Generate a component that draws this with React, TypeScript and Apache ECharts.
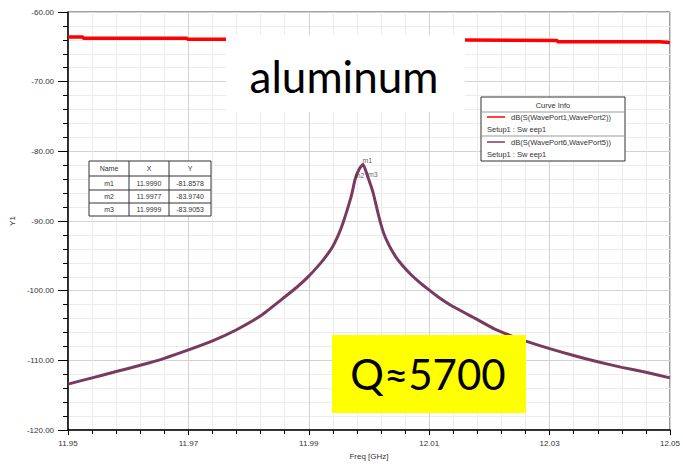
import React, { useEffect, useRef } from "react";
import * as echarts from "echarts";

// Swept S-parameter traces (frequency in GHz, magnitude in dB)
const s21Name = "dB(S(WavePort1,WavePort2))";
const s21Freq = [11.95, 11.9525, 11.9525, 11.9698, 11.9698, 11.9935, 11.9935, 12.008, 12.008, 12.0313, 12.0313, 12.0482, 12.0482, 12.05];
const s21Db = [-63.6, -63.6, -63.75, -63.75, -63.9, -63.95, -64.0, -64.0, -64.1, -64.1, -64.27, -64.27, -64.37, -64.37];

const s65Name = "dB(S(WavePort6,WavePort5))";
const s65Freq = [
  11.95, 11.954, 11.958, 11.962, 11.966, 11.97, 11.974, 11.978, 11.982, 11.986, 11.988, 11.99, 11.992, 11.993, 11.994,
  11.9948, 11.9955, 11.9962, 11.997, 11.9973, 11.9977, 11.9984, 11.999, 11.9999, 12.0003, 12.0007, 12.0012, 12.0018,
  12.0025, 12.0034, 12.0045, 12.0059, 12.007, 12.0084, 12.0097, 12.0115, 12.0138, 12.0177, 12.0209, 12.0259, 12.03,
  12.034, 12.038, 12.042, 12.046, 12.05,
];
const s65Db = [
  -113.4, -112.5, -111.6, -110.7, -109.7, -108.5, -107.2, -105.6, -103.6, -100.9, -99.5, -97.9, -96.0, -94.9, -93.6,
  -92.2, -90.7, -88.9, -86.6, -85.5, -83.974, -82.5, -81.8578, -83.9053, -84.9, -86.0, -87.8, -89.9,
  -91.9, -93.6, -95.2, -96.7, -97.7, -98.8, -99.7, -100.9, -102.2, -104.0, -105.5, -107.2, -108.3,
  -109.3, -110.2, -111.0, -111.7, -112.5,
];

// Markers placed on the resonance trace
const markerNames = ["m1", "m2", "m3"];
const markerFreq = [11.999, 11.9977, 11.9999];
const markerDb = [-81.8578, -83.974, -83.9053];

const tableHeaders = ["Name", "X", "Y"];
const setupLabel = "Setup1 : Sw eep1";
const materialLabel = "aluminum";
const qLabel = "Q\u22485700";

const S21_COLOR = "#ff0000";
const S65_COLOR = "#7a3a60";
const TXT = "#333333";
const FONT = "Liberation Sans, Arial, sans-serif";
const TOP_Z = 100;

// Overlay elements sit above grid lines and traces
function onTop(el: any): any {
  return { z: TOP_Z, ...el };
}

function label(text: string, x: number, y: number, font: string, align = "center", fill = TXT): any {
  return onTop({
    type: "text",
    style: { text, x, y, align, verticalAlign: "middle", fill, font, stroke: "none", lineWidth: 0 },
  });
}

function buildTable(): any[] {
  const colEdges = [89, 129, 169, 211];
  const rowEdges = [161, 176, 190, 203, 216];
  const els: any[] = [
    onTop({
      type: "rect",
      shape: { x: colEdges[0], y: rowEdges[0], width: colEdges[3] - colEdges[0], height: rowEdges[4] - rowEdges[0] },
      style: { fill: "#ffffff", stroke: "#333", lineWidth: 1 },
    }),
  ];
  for (let i = 1; i < rowEdges.length - 1; i++) {
    els.push(
      onTop({
        type: "line",
        shape: { x1: colEdges[0], y1: rowEdges[i], x2: colEdges[3], y2: rowEdges[i] },
        style: { stroke: "#333", lineWidth: 1 },
      })
    );
  }
  for (let j = 1; j < colEdges.length - 1; j++) {
    els.push(
      onTop({
        type: "line",
        shape: { x1: colEdges[j], y1: rowEdges[0], x2: colEdges[j], y2: rowEdges[4] },
        style: { stroke: "#333", lineWidth: 1 },
      })
    );
  }
  const rows: string[][] = [tableHeaders];
  markerNames.forEach((n, i) => {
    rows.push([n, markerFreq[i].toFixed(4), markerDb[i].toFixed(4)]);
  });
  rows.forEach((r, i) => {
    const cy = (rowEdges[i] + rowEdges[i + 1]) / 2;
    r.forEach((cell, j) => {
      const cx = (colEdges[j] + colEdges[j + 1]) / 2;
      els.push(label(cell, cx, cy, `7px ${FONT}`));
    });
  });
  return els;
}

function buildCurveInfo(): any[] {
  const x0 = 481;
  const y0 = 97;
  const w = 144;
  const h = 64;
  const font = `7.5px ${FONT}`;
  const entries = [
    { name: s21Name, color: S21_COLOR },
    { name: s65Name, color: S65_COLOR },
  ];
  const els: any[] = [
    onTop({
      type: "rect",
      shape: { x: x0, y: y0, width: w, height: h },
      style: { fill: "#ffffff", stroke: "#333", lineWidth: 1 },
    }),
    label("Curve Info", x0 + w / 2, y0 + 8, font),
    onTop({
      type: "line",
      shape: { x1: x0, y1: y0 + 15, x2: x0 + w, y2: y0 + 15 },
      style: { stroke: "#999", lineWidth: 1 },
    }),
    onTop({
      type: "line",
      shape: { x1: x0, y1: y0 + 39, x2: x0 + w, y2: y0 + 39 },
      style: { stroke: "#999", lineWidth: 1 },
    }),
  ];
  entries.forEach((e, i) => {
    const base = y0 + 20 + i * 25;
    els.push(
      onTop({
        type: "line",
        shape: { x1: x0 + 6, y1: base, x2: x0 + 24, y2: base },
        style: { stroke: e.color, lineWidth: 1.5 },
      })
    );
    els.push(label(e.name, x0 + 30, base, font, "left"));
    els.push(label(setupLabel, x0 + 6, base + 12, font, "left"));
  });
  return els;
}

export default function App() {
  const ref = useRef<HTMLDivElement>(null);

  useEffect(() => {
    if (!ref.current) return;
    const chart = echarts.init(ref.current, undefined, { renderer: "svg" });

    const axisLabel = { color: TXT, fontSize: 8, fontFamily: FONT };
    const majorSplit = { show: true, lineStyle: { color: "#d2d2d2", width: 1 } };
    const minorSplit = { show: true, lineStyle: { color: "#ececec", width: 1 } };

    chart.setOption({
      animation: false,
      backgroundColor: "#ffffff",
      grid: {
        left: 64,
        right: 9,
        top: 12,
        bottom: 27,
        show: true,
        borderColor: "#444",
        borderWidth: 1,
        backgroundColor: "transparent",
      },
      xAxis: {
        type: "value",
        min: 11.95,
        max: 12.05,
        interval: 0.02,
        name: "Freq [GHz]",
        nameLocation: "middle",
        nameGap: 20,
        nameTextStyle: { color: TXT, fontSize: 8, fontFamily: FONT },
        axisLine: { show: true, onZero: false, lineStyle: { color: "#000", width: 1.5 } },
        axisTick: { show: true, inside: false, length: 5, lineStyle: { color: "#000" } },
        minorTick: { show: true, splitNumber: 5, length: 4, lineStyle: { color: "#000" } },
        axisLabel: { ...axisLabel, margin: 9, formatter: (v: number) => v.toFixed(2) },
        splitLine: majorSplit,
        minorSplitLine: minorSplit,
      },
      yAxis: {
        type: "value",
        min: -120,
        max: -60,
        interval: 10,
        name: "Y1",
        nameLocation: "middle",
        nameRotate: 90,
        nameGap: 50,
        nameTextStyle: { color: TXT, fontSize: 8, fontFamily: FONT },
        axisLine: { show: true, onZero: false, lineStyle: { color: "#000", width: 1.5 } },
        axisTick: { show: true, inside: false, length: 10, lineStyle: { color: "#000" } },
        minorTick: { show: true, splitNumber: 5, length: 5, lineStyle: { color: "#000" } },
        axisLabel: { ...axisLabel, margin: 14, formatter: (v: number) => v.toFixed(2) },
        splitLine: majorSplit,
        minorSplitLine: minorSplit,
      },
      series: [
        {
          name: s21Name,
          type: "line",
          data: s21Freq.map((f, i) => [f, s21Db[i]]),
          showSymbol: false,
          lineStyle: { color: S21_COLOR, width: 3.5 },
          z: 3,
        },
        {
          name: s65Name,
          type: "line",
          data: s65Freq.map((f, i) => [f, s65Db[i]]),
          showSymbol: false,
          smooth: 0.15,
          lineStyle: { color: S65_COLOR, width: 3, join: "round" },
          z: 4,
        },
        {
          name: "markers",
          type: "scatter",
          data: markerNames.map((n, i) => ({ name: n, value: [markerFreq[i], markerDb[i]] })),
          symbolSize: 1,
          itemStyle: { color: S65_COLOR },
          label: {
            show: true,
            formatter: "{b}",
            position: "right",
            distance: 0,
            offset: [-1, -4],
            color: TXT,
            fontSize: 7,
            fontFamily: FONT,
          },
          z: 5,
        },
      ],
      graphic: [
        ...buildTable(),
        ...buildCurveInfo(),
        onTop({ type: "rect", shape: { x: 226, y: 35, width: 239, height: 77 }, style: { fill: "#ffffff" } }),
        label(materialLabel, 344, 76, "44px Lato, sans-serif", "center", "#000"),
        onTop({ type: "rect", shape: { x: 332, y: 335, width: 194, height: 78 }, style: { fill: "#ffff00" } }),
        label(qLabel, 428, 374, "42px Lato, sans-serif", "center", "#000"),
      ],
    });

    return () => chart.dispose();
  }, []);

  return <div ref={ref} style={{ position: "fixed", left: 0, top: 0, width: 683, height: 465 }} />;
}
